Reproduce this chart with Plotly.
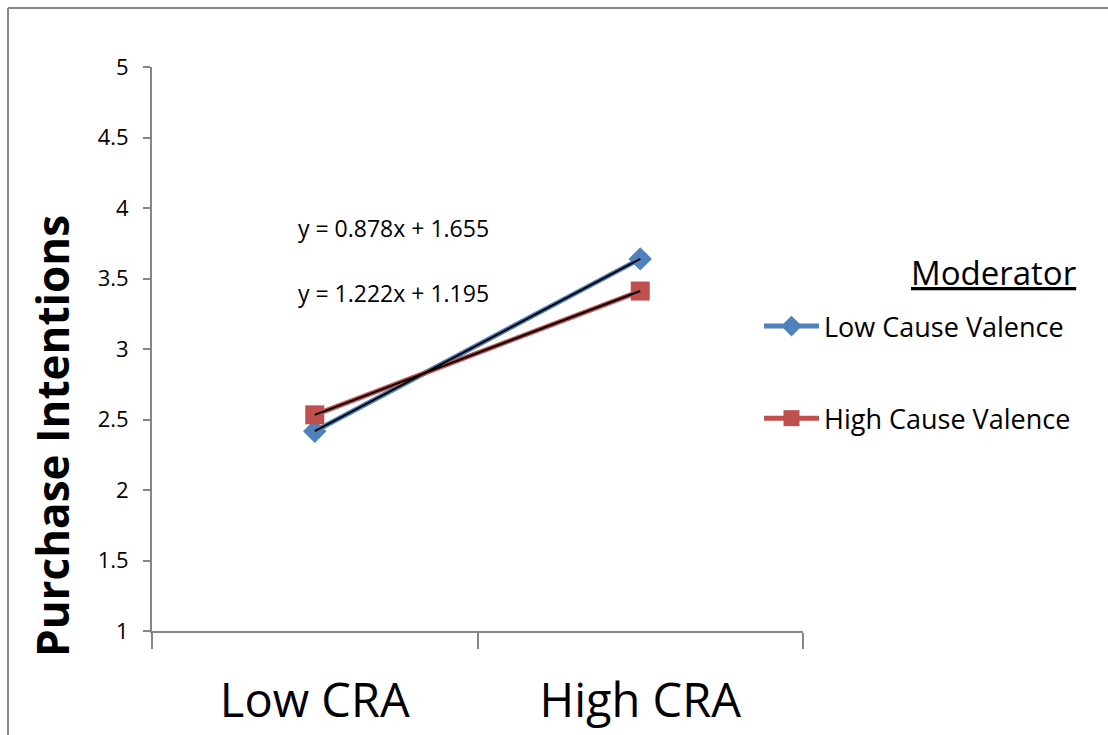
import plotly.graph_objects as go

categories = ["Low CRA", "High CRA"]
low_cause_valence = [2.417, 3.639]
high_cause_valence = [2.533, 3.411]
series_names = ["Low Cause Valence", "High Cause Valence"]
trend_low = [2.417, 3.639]    # y = 1.222x + 1.195
trend_high = [2.533, 3.411]   # y = 0.878x + 1.655
equations = ["y = 0.878x + 1.655", "y = 1.222x + 1.195"]
y_ticks = [1, 1.5, 2, 2.5, 3, 3.5, 4, 4.5, 5]
y_ticktext = ["1", "1.5", "2", "2.5", "3", "3.5", "4", "4.5", "5"]

FONT = "Open Sans"
BLUE = "#4F81BD"
RED = "#C0504D"
GRAY = "#868686"

fig = go.Figure()
fig.add_trace(go.Scatter(
    x=categories, y=low_cause_valence, name=series_names[0], mode="lines+markers",
    line=dict(color=BLUE, width=5), marker=dict(symbol="diamond", size=18, color=BLUE),
    legendgroup="a"))
fig.add_trace(go.Scatter(
    x=categories, y=high_cause_valence, name=series_names[1], mode="lines+markers",
    line=dict(color=RED, width=5), marker=dict(symbol="square", size=19, color=RED),
    legendgroup="b"))
fig.add_trace(go.Scatter(
    x=categories, y=trend_low, mode="lines", line=dict(color="black", width=2),
    showlegend=False, hoverinfo="skip"))
fig.add_trace(go.Scatter(
    x=categories, y=trend_high, mode="lines", line=dict(color="black", width=2),
    showlegend=False, hoverinfo="skip"))

L, R, T, B = 152, 305, 67, 104
W, H = 1108, 735
pw, ph = W - L - R, H - T - B

def px(x):
    return (x - L) / pw

def py(y):
    return (H - B - y) / ph

fig.update_layout(
    width=W, height=H,
    margin=dict(l=L, r=R, t=T, b=B, pad=0, autoexpand=False),
    paper_bgcolor="white", plot_bgcolor="white",
    font=dict(family=FONT, color="black"),
    showlegend=True,
    legend=dict(
        x=px(759), y=py(302), xanchor="left", yanchor="top",
        font=dict(family=FONT, size=27, color="black"),
        traceorder="grouped", tracegroupgap=54, itemwidth=55,
        bgcolor="rgba(0,0,0,0)",
    ),
    xaxis=dict(
        type="category", range=[-0.5, 1.5], tickson="boundaries",
        ticks="outside", ticklen=16, tickwidth=2, tickcolor=GRAY,
        showline=True, linecolor=GRAY, linewidth=2, showgrid=False, zeroline=False,
        tickfont=dict(family=FONT, size=47, color="black"),
        ticklabelstandoff=28, automargin=False,
    ),
    yaxis=dict(
        range=[1, 5], tickvals=y_ticks, ticktext=y_ticktext,
        ticks="outside", ticklen=7, tickwidth=2, tickcolor=GRAY,
        showline=True, linecolor=GRAY, linewidth=2, showgrid=False, zeroline=False,
        tickfont=dict(family=FONT, size=22, color="black"),
        ticklabelstandoff=10, automargin=False,
    ),
    annotations=[
        dict(text="<b>Purchase Intentions</b>", textangle=-90, xref="paper", yref="paper",
             x=px(52), y=py(436), xanchor="center", yanchor="middle", showarrow=False,
             font=dict(family=FONT, size=44, color="black")),
        dict(text=equations[0], xref="paper", yref="paper", x=px(296), y=py(228),
             xanchor="left", yanchor="middle", showarrow=False,
             font=dict(family=FONT, size=23, color="black")),
        dict(text=equations[1], xref="paper", yref="paper", x=px(296), y=py(293),
             xanchor="left", yanchor="middle", showarrow=False,
             font=dict(family=FONT, size=23, color="black")),
        dict(text="<u>Moderator</u>", xref="paper", yref="paper", x=px(1078), y=py(272),
             xanchor="right", yanchor="middle", showarrow=False,
             font=dict(family=FONT, size=33, color="black")),
    ],
    shapes=[
        dict(type="line", xref="paper", yref="paper", x0=px(8), y0=py(8), x1=px(1200), y1=py(8),
             line=dict(color=GRAY, width=2)),
        dict(type="line", xref="paper", yref="paper", x0=px(8), y0=py(8), x1=px(8), y1=py(800),
             line=dict(color=GRAY, width=2)),
    ],
)

fig.write_html("out.html", config={"displayModeBar": False},
               post_script="document.body.style.margin='0';")
